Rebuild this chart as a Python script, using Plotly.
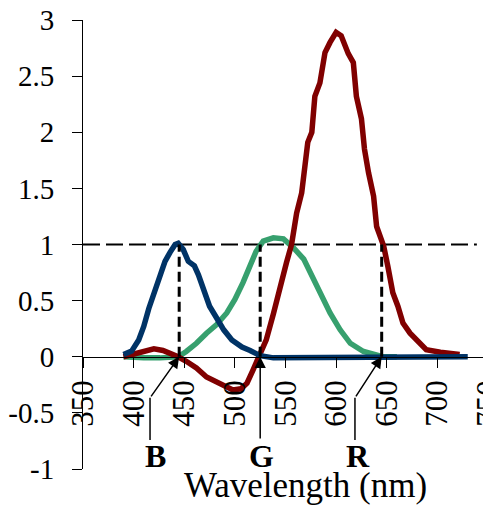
import plotly.graph_objects as go

# ---- data ----
blue_x = [390, 398, 405, 410, 415, 421, 426, 431, 436, 441, 444, 449, 454, 460, 464, 469, 475, 482, 489, 497, 507, 515, 525, 538, 560, 580, 585, 600, 650, 700, 730]
blue_y = [0.02, 0.05, 0.15, 0.27, 0.43, 0.58, 0.72, 0.85, 0.93, 1.0, 1.01, 0.955, 0.85, 0.81, 0.73, 0.60, 0.45, 0.345, 0.24, 0.15, 0.086, 0.056, 0.01, -0.01, -0.01, -0.01, 0.0, 0.0, 0.0, 0.0, 0.0]

red_x = [390, 403, 412, 420, 429, 439, 444, 452, 462, 472, 482, 490, 498, 506, 512, 518, 525, 531, 538, 545, 551, 556, 561, 566, 569, 572, 576, 579, 584, 589, 594, 600, 605, 612, 617, 620, 625, 628, 632, 637, 640, 647, 651, 656, 661, 666, 673, 680, 689, 703, 716, 722]
red_y = [0.0, 0.03, 0.06, 0.07, 0.056, 0.027, 0.0, -0.04, -0.10, -0.18, -0.22, -0.265, -0.295, -0.286, -0.235, -0.116, 0.018, 0.15, 0.38, 0.65, 0.84, 1.0, 1.28, 1.46, 1.73, 1.91, 2.0, 2.32, 2.44, 2.71, 2.80, 2.89, 2.86, 2.70, 2.62, 2.32, 2.12, 1.85, 1.64, 1.43, 1.16, 0.985, 0.81, 0.57, 0.45, 0.30, 0.21, 0.14, 0.0625, 0.04, 0.03, 0.02]

green_x = [390, 400, 410, 426, 439, 444, 452, 462, 472, 482, 492, 500, 508, 515, 521, 528, 538, 548, 558, 568, 576, 584, 594, 604, 614, 627, 637, 646, 660]
green_y = [0.0, -0.01, -0.01, -0.01, 0.0, 0.0, 0.047, 0.12, 0.21, 0.286, 0.39, 0.51, 0.66, 0.81, 0.94, 1.03, 1.06, 1.05, 0.97, 0.87, 0.72, 0.57, 0.39, 0.24, 0.12, 0.047, 0.018, 0.0, 0.0]

x_ticks = [350, 400, 450, 500, 550, 600, 650, 700, 750]
y_ticks = [-1, -0.5, 0, 0.5, 1, 1.5, 2, 2.5, 3]
y_ticktext = ["-1", "-0.5", "0", "0.5", "1", "1.5", "2", "2.5", "3"]

primary_labels = ["B", "G", "R"]
primary_wl = [445, 525, 645]          # wavelengths where the arrows point
label_x = [422, 526, 621.6]           # label positions (nm)
bend_x = [416.2, 525, 618.6]          # where the arrow's vertical part sits

FONT = "Liberation Serif, Times New Roman, serif"
PAGE = 8  # default page body margin

fig = go.Figure()
fig.add_trace(go.Scatter(x=green_x, y=green_y, mode="lines",
                         line=dict(color="#37a06e", width=5.5), showlegend=False))
fig.add_trace(go.Scatter(x=red_x, y=red_y, mode="lines",
                         line=dict(color="#800000", width=5.5), showlegend=False))
fig.add_trace(go.Scatter(x=blue_x, y=blue_y, mode="lines",
                         line=dict(color="#003366", width=5.5), showlegend=False))

shapes = []
shapes.append(dict(type="line", xref="x", yref="y", x0=350, x1=739, y0=1, y1=1,
                   line=dict(color="black", width=2, dash="17px,6px"), layer="below"))
for w in primary_wl:
    shapes.append(dict(type="line", xref="x", yref="y", x0=w, x1=w, y0=0, y1=1,
                       line=dict(color="black", width=3, dash="10px,5px")))
for bx, w in zip(bend_x, primary_wl):
    if bx != w:
        shapes.append(dict(type="line", xref="x", yref="y", x0=bx, x1=bx, y0=-0.741, y1=-0.366,
                           line=dict(color="black", width=1.5)))

annotations = []
for lab, w, lx, bx in zip(primary_labels, primary_wl, label_x, bend_x):
    tail_y = -0.366 if bx != w else -0.741
    annotations.append(dict(x=w, y=0, xref="x", yref="y", ax=bx, ay=tail_y,
                            axref="x", ayref="y", text="", showarrow=True,
                            arrowhead=2, arrowsize=1.5, arrowwidth=1.5,
                            arrowcolor="black", standoff=0))
    annotations.append(dict(x=lx, y=-0.885, xref="x", yref="y", text="<b>%s</b>" % lab,
                            showarrow=False, font=dict(family=FONT, size=32, color="black"),
                            xanchor="center", yanchor="middle"))
annotations.append(dict(x=0.5506, y=-0.036, xref="paper", yref="paper",
                        text="Wavelength (nm)", showarrow=False,
                        font=dict(family=FONT, size=35, color="black"),
                        xanchor="center", yanchor="middle"))

fig.update_layout(
    template="none",
    width=491 - PAGE, height=507 - PAGE,
    margin=dict(l=83 - PAGE, r=3, t=20 - PAGE, b=38, autoexpand=False),
    paper_bgcolor="white", plot_bgcolor="white",
    font=dict(family=FONT, color="black"),
    shapes=shapes, annotations=annotations,
    xaxis=dict(range=[350, 750], tickvals=x_ticks, ticks="outside", ticklen=10,
               tickwidth=1, tickcolor="black", showline=True, linecolor="black",
               linewidth=1, showgrid=False, zeroline=False, anchor="free",
               position=0.25, tickangle=-90, automargin=False,
               ticklabeloverflow="allow", tickfont=dict(size=31, family=FONT)),
    yaxis=dict(range=[-1, 3], tickvals=y_ticks, ticktext=y_ticktext, ticks="outside",
               ticklen=10, tickwidth=1, tickcolor="black", showline=True,
               linecolor="black", linewidth=1, showgrid=False, zeroline=False,
               automargin=False, ticklabelstandoff=12, ticklabeloverflow="allow",
               tickfont=dict(size=29, family=FONT)),
)

fig.write_html("out.html")
